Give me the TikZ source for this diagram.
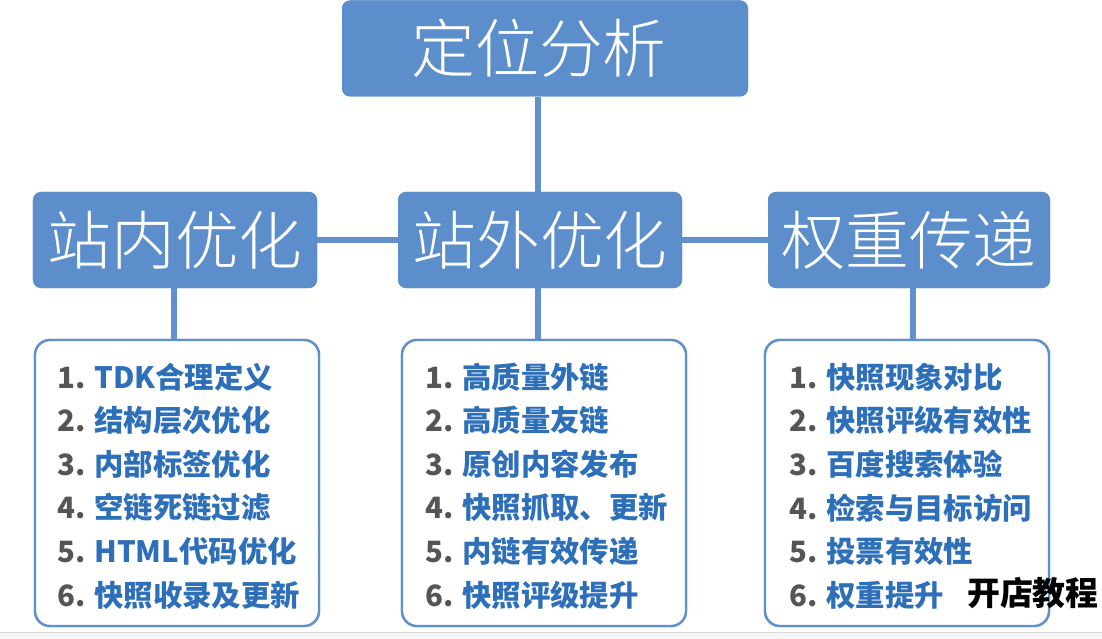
\documentclass[tikz,border=0pt]{standalone}
\usepackage{fontspec}
\setmainfont{Noto Sans CJK SC}
\newfontfamily\cjk{Noto Sans CJK SC}
\newfontfamily\cjklight{Noto Sans CJK SC Light}
\definecolor{headblue}{RGB}{91,142,202}
\definecolor{lineblue}{RGB}{96,145,204}
\definecolor{itemblue}{RGB}{46,111,186}
\definecolor{numgray}{RGB}{85,85,85}
\begin{document}
\begin{tikzpicture}[x=1bp,y=-1bp,
  head/.style={draw=none,fill=headblue,rounded corners=8bp,text=white,
    font=\cjklight\fontsize{64}{64}\selectfont,inner sep=0pt,
    minimum height=96bp},
  listbox/.style={draw=lineblue,line width=2.4bp,fill=white,rounded corners=15bp,
    minimum width=284bp,minimum height=286bp,inner sep=0pt},
  conn/.style={draw=lineblue,line width=6bp},
  item/.style={anchor=west,inner sep=0pt,font=\cjk\bfseries\fontsize{29.5}{29.5}\selectfont,text=itemblue},
  wm/.style={anchor=west,inner sep=0pt,font=\cjk\bfseries\fontsize{33}{33}\selectfont,text=black}]
\useasboundingbox (0,0) rectangle (1102,639);
\fill[white] (0,0) rectangle (1102,639);
\fill[gray!8] (0,632) rectangle (1102,639);
\draw[gray!30,line width=1bp] (0,632) -- (1102,632);
% nodes (first pass to place names)
\node[head,minimum width=406bp] (top) at (545,48.5) {};
\node[head,minimum width=284bp] (m1) at (175,240) {};
\node[head,minimum width=284bp] (m2) at (540,240) {};
\node[head,minimum width=282bp] (m3) at (909,240) {};
\node[listbox] (l1) at (177,483) {};
\node[listbox] (l2) at (544,483) {};
\node[listbox] (l3) at (907,483) {};
% connectors
\draw[conn] (top.south -| m2.north) ++(-2,0) coordinate (ct) -- (ct |- m2.north);
\draw[conn] (m1.east) -- (m2.west);
\draw[conn] (m2.east) -- (m3.west);
\draw[conn] (m1.south) ++(-1,0) coordinate (c1) -- (c1 |- l1.north);
\draw[conn] (m2.south) ++(-2,0) coordinate (c2) -- (c2 |- l2.north);
\draw[conn] (m3.south) ++(4,0) coordinate (c3) -- (c3 |- l3.north);
% nodes drawn over the connectors
\node[head,minimum width=406bp] (topT) at (top) {\hspace*{-12bp}定位分析};
\node[head,minimum width=284bp] (m1T) at (m1) {站内优化};
\node[head,minimum width=284bp] (m2T) at (m2) {站外优化};
\node[head,minimum width=282bp] (m3T) at (m3) {权重传递};
\node[listbox] (l1T) at (l1) {};
\node[listbox] (l2T) at (l2) {};
\node[listbox] (l3T) at (l3) {};
% list items
\foreach \t [count=\i] in {TDK合理定义,结构层次优化,内部标签优化,空链死链过滤,HTML代码优化,快照收录及更新}{
  \node[item] (a\i) at (57,{377+43.6*(\i-1)}) {\textcolor{numgray}{\i.} \t};
}
\foreach \t [count=\i] in {高质量外链,高质量友链,原创内容发布,快照抓取、更新,内链有效传递,快照评级提升}{
  \node[item] (b\i) at (425,{377+43.6*(\i-1)}) {\textcolor{numgray}{\i.} \t};
}
\foreach \t [count=\i] in {快照现象对比,快照评级有效性,百度搜索体验,检索与目标访问,投票有效性,权重提升}{
  \node[item] (c\i) at (789,{377+43.6*(\i-1)}) {\textcolor{numgray}{\i.} \t};
}
\node[wm] (w) at (967,593) {开店教程};
\end{tikzpicture}
\end{document}
